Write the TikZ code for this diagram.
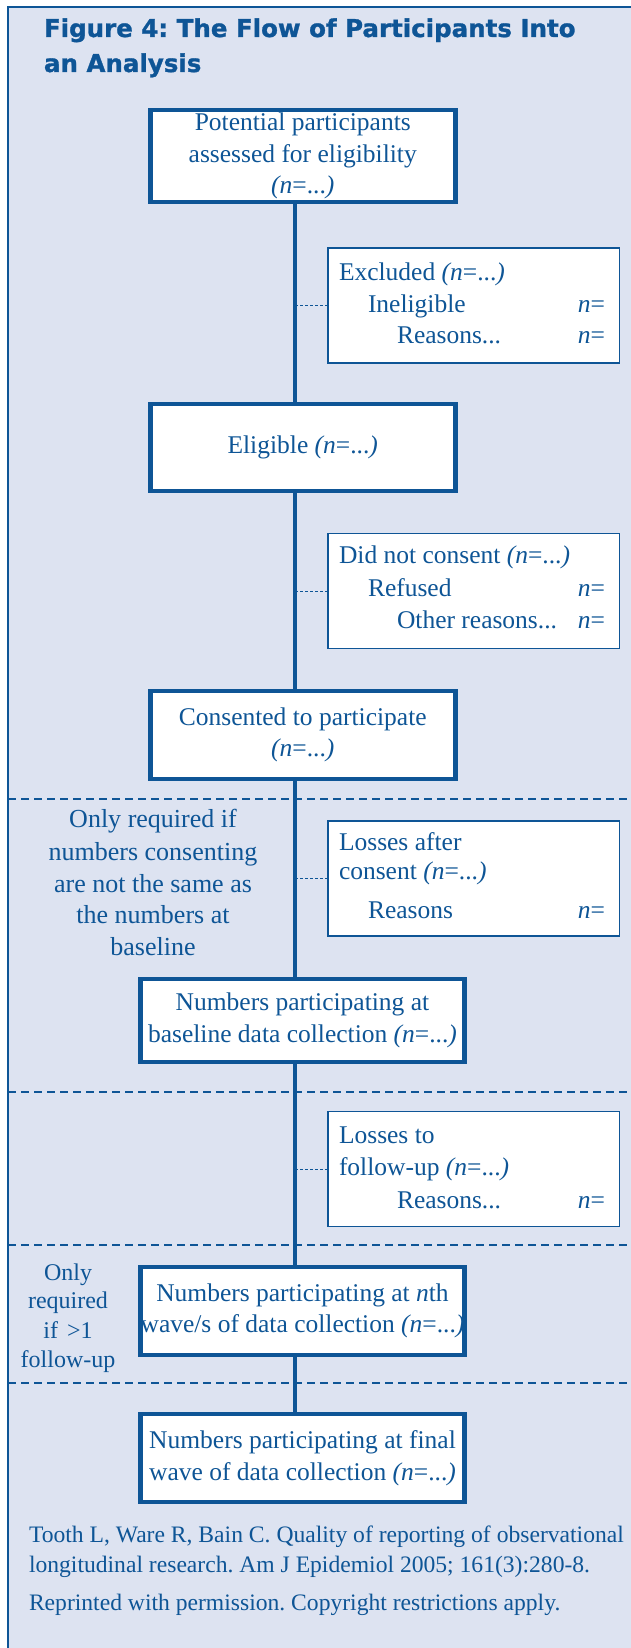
\documentclass[tikz,border=0pt]{standalone}
\usepackage{fontspec}
\setmainfont{Liberation Serif}
\newfontfamily\titlefont{DejaVu Sans}[BoldFeatures={FakeBold=1.2}]
\definecolor{bluef}{RGB}{14,85,150}
\definecolor{bgf}{RGB}{221,227,241}
\newcommand{\nval}{\textit{(n}=...\textit{)}}
\newcommand{\nequ}{\textit{n}=}
\frenchspacing
\begin{document}
\begin{tikzpicture}[x=1pt,y=-1pt,
  every node/.style={text=bluef, inner sep=0pt, outer sep=0pt},
  mainbox/.style={draw=bluef, line width=4.5pt, fill=white, align=center,
    font=\fontsize{25.5}{31.5}\selectfont},
  sidebox/.style={draw=bluef, line width=1.5pt, fill=white,
    minimum width=291.5pt, minimum height=115pt},
  txt/.style={anchor=base west, font=\fontsize{25.5}{31}\selectfont},
  rtxt/.style={anchor=base east, font=\fontsize{25.5}{31}\selectfont},
  ctxt/.style={anchor=base, font=\fontsize{26}{31}\selectfont},
  stxt/.style={anchor=base, font=\fontsize{24}{29}\selectfont},
  cite/.style={anchor=base west, font=\fontsize{23.6}{29}\selectfont},
  ttl/.style={anchor=base west, font=\titlefont\bfseries\fontsize{24.5}{30}\selectfont},
  spineline/.style={draw=bluef, line width=4pt},
  link/.style={draw=bluef, line width=1pt, dash pattern=on 3pt off 2pt},
  sepline/.style={draw=bluef, line width=2pt, dash pattern=on 8pt off 5pt},
]
\useasboundingbox (0,0) rectangle (631,1648);
\fill[bgf] (8,7) rectangle (631,1648);
\draw[bluef, line width=2.5pt] (8,1648) -- (8,7) -- (631,7);

% title
\node[ttl] (t1) at (44,37) {Figure 4: The Flow of Participants Into};
\node[ttl] (t2) at (44,72) {an Analysis};

% separators
\foreach \yy in {799,1092,1245,1383} \draw[sepline] (8,\yy) -- (631,\yy);

\coordinate (sp) at (295,0);

% main boxes
\node[mainbox, minimum width=305pt, minimum height=92pt] (b1) at (302.75,156)
  {Potential participants\\assessed for eligibility\\\nval};
\node[mainbox, minimum width=305pt, minimum height=87pt] (b2) at (302.75,447.5)
  {Eligible \nval};
\node[mainbox, minimum width=305pt, minimum height=88pt] (b3) at (302.75,735)
  {Consented to participate\\\nval};
\node[mainbox, minimum width=324pt, minimum height=83pt] (b4) at (302.5,1020.5)
  {Numbers participating at\\baseline data collection \nval};
\node[mainbox, minimum width=324pt, minimum height=88pt] (b5) at (302.5,1311)
  {Numbers participating at \textit{n}th\\wave/s of data collection \nval};
\node[mainbox, minimum width=324pt, minimum height=88pt] (b6) at (302.5,1458)
  {Numbers participating at final\\wave of data collection \nval};

% spine
\draw[spineline] (b1.south -| sp) -- (b2.north -| sp);
\draw[spineline] (b2.south -| sp) -- (b3.north -| sp);
\draw[spineline] (b3.south -| sp) -- (b4.north -| sp);
\draw[spineline] (b4.south -| sp) -- (b5.north -| sp);
\draw[spineline] (b5.south -| sp) -- (b6.north -| sp);

% side boxes
\node[sidebox] (e1) at (473.5,305.5) {};
\node[sidebox] (e2) at (473.5,591) {};
\node[sidebox] (e3) at (473.5,878.5) {};
\node[sidebox] (e4) at (473.5,1169) {};
\draw[link] (e1.west -| sp) -- (e1.west);
\draw[link] (e2.west -| sp) -- (e2.west);
\draw[link] (e3.west -| sp) -- (e3.west);
\draw[link] (e4.west -| sp) -- (e4.west);

\node[txt] (e1a) at (339,280) {Excluded \nval};
\node[txt] (e1b) at (368,312) {Ineligible};
\node[rtxt] (e1c) at (605,312) {\nequ};
\node[txt] (e1d) at (397,343) {Reasons...};
\node[rtxt] (e1e) at (605,343) {\nequ};

\node[txt] (e2a) at (339,563) {Did not consent \nval};
\node[txt] (e2b) at (368,596) {Refused};
\node[rtxt] (e2c) at (605,596) {\nequ};
\node[txt] (e2d) at (397,628) {Other reasons...};
\node[rtxt] (e2e) at (605,628) {\nequ};

\node[txt] (e3a) at (339,850) {Losses after};
\node[txt] (e3b) at (339,879) {consent \nval};
\node[txt] (e3c) at (368,918) {Reasons};
\node[rtxt] (e3d) at (605,918) {\nequ};

\node[txt] (e4a) at (339,1143) {Losses to};
\node[txt] (e4b) at (339,1175) {follow-up \nval};
\node[txt] (e4c) at (397,1208) {Reasons...};
\node[rtxt] (e4d) at (605,1208) {\nequ};

% left notes
\node[ctxt] (n1a) at (153,827) {Only required if};
\node[ctxt] (n1b) at (153,860) {numbers consenting};
\node[ctxt] (n1c) at (153,892) {are not the same as};
\node[ctxt] (n1d) at (153,923) {the numbers at};
\node[ctxt] (n1e) at (153,955) {baseline};

\node[stxt] (n2a) at (68,1280) {Only};
\node[stxt] (n2b) at (68,1308) {required};
\node[stxt] (n2c) at (68,1338) {if\hspace{9pt}>1};
\node[stxt] (n2d) at (68,1367) {follow-up};

% citation
\node[cite] (c1) at (29,1542) {Tooth L, Ware R, Bain C. Quality of reporting of observational};
\node[cite] (c2) at (29,1572) {longitudinal research. Am J Epidemiol 2005; 161(3):280-8.};
\node[cite] (c3) at (29,1610) {Reprinted with permission. Copyright restrictions apply.};
\end{tikzpicture}
\end{document}
